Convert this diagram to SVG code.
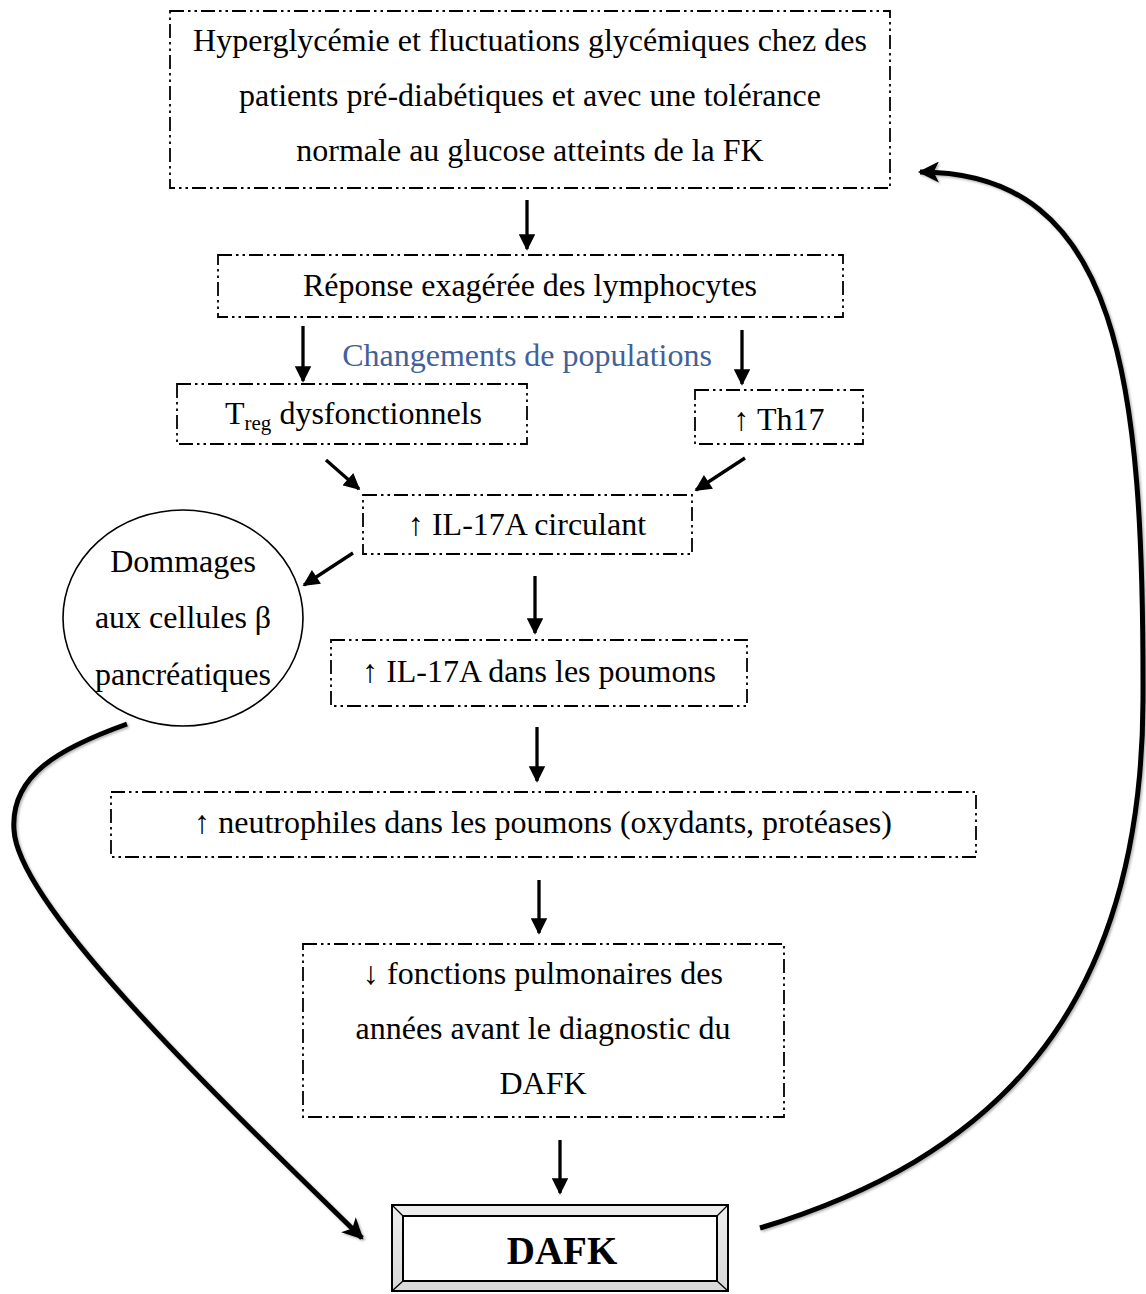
<svg xmlns="http://www.w3.org/2000/svg" width="1146" height="1294" viewBox="0 0 1146 1294">
<style>
.box{fill:none;stroke:#000;stroke-width:1.8;stroke-dasharray:14 4 2.5 4 2.5 4}
.t{font-family:"Liberation Serif","Times New Roman",serif;font-size:32px;fill:#000;text-anchor:middle}
.arr{stroke:#000;stroke-width:3.3;fill:none;marker-end:url(#ah)}
.curve{stroke:#000;stroke-width:5;fill:none;filter:url(#sh)}
</style>
<defs>
<marker id="ah" viewBox="0 0 10 10" refX="9" refY="5" markerWidth="5.2" markerHeight="5" orient="auto" markerUnits="strokeWidth">
<path d="M0,0 L10,5 L0,10 z" fill="#000"/>
</marker>
<marker id="ah2" viewBox="0 0 10 10" refX="9" refY="5" markerWidth="5" markerHeight="4.2" orient="auto" markerUnits="strokeWidth">
<path d="M0,0 L10,5 L0,10 L2.5,5 z" fill="#000"/>
</marker>
<filter id="sh" x="-10%" y="-10%" width="120%" height="120%">
<feDropShadow dx="1.5" dy="1.5" stdDeviation="1.2" flood-color="#000" flood-opacity="0.3"/>
</filter>
<linearGradient id="bev" x1="0" y1="0" x2="0" y2="1">
<stop offset="0" stop-color="#eeeeee"/>
<stop offset="1" stop-color="#d8d8d8"/>
</linearGradient>
</defs>
<rect width="1146" height="1294" fill="#fff"/>

<g id="connectors">
<line class="arr" x1="527" y1="200" x2="527" y2="249"/>
<line class="arr" x1="303" y1="326" x2="303" y2="381"/>
<line class="arr" x1="742" y1="330" x2="742" y2="384"/>
<line class="arr" x1="326" y1="460" x2="359" y2="489"/>
<line class="arr" x1="745" y1="458" x2="696" y2="490"/>
<line class="arr" x1="353" y1="553" x2="304" y2="585"/>
<line class="arr" x1="535" y1="576" x2="535" y2="633"/>
<line class="arr" x1="537" y1="727" x2="537" y2="781"/>
<line class="arr" x1="539" y1="880" x2="539" y2="933"/>
<line class="arr" x1="560" y1="1140" x2="560" y2="1193"/>
<path class="curve" marker-end="url(#ah2)" d="M127,724 C60,748 10,775 14,830 C18,905 210,1090 362,1238"/>
<path class="curve" marker-end="url(#ah2)" d="M760,1228 C985,1160 1142,1020 1143,700 C1144,380 1120,172 920,172"/>
</g>

<g id="n1">
<rect class="box" x="170" y="11" width="720" height="177"/>
<text class="t" x="530" y="51">Hyperglycémie et fluctuations glycémiques chez des</text>
<text class="t" x="530" y="106">patients pré-diabétiques et avec une tolérance</text>
<text class="t" x="530" y="161">normale au glucose atteints de la FK</text>
</g>

<g id="n2">
<rect class="box" x="218" y="255" width="625" height="62"/>
<text class="t" x="530" y="296">Réponse exagérée des lymphocytes</text>
</g>

<g id="lbl">
<text class="t" x="527" y="366" style="fill:#41619b">Changements de populations</text>
</g>

<g id="n3">
<rect class="box" x="177" y="384" width="350" height="60"/>
<text class="t" x="225" y="424" style="text-anchor:start">T<tspan font-size="21" dy="6">reg</tspan><tspan dy="-6"> dysfonctionnels</tspan></text>
</g>

<g id="n4">
<rect class="box" x="695" y="390" width="168" height="54"/>
<text class="t" x="779" y="430">↑ Th17</text>
</g>

<g id="n5">
<rect class="box" x="363" y="495" width="329" height="59"/>
<text class="t" x="527" y="535">↑ IL-17A circulant</text>
</g>

<g id="n6">
<ellipse cx="183" cy="618" rx="120" ry="108" fill="#fff" stroke="#000" stroke-width="1.6"/>
<text class="t" x="183" y="572">Dommages</text>
<text class="t" x="183" y="628">aux cellules β</text>
<text class="t" x="183" y="685">pancréatiques</text>
</g>

<g id="n7">
<rect class="box" x="331" y="640" width="416" height="66"/>
<text class="t" x="539" y="682">↑ IL-17A dans les poumons</text>
</g>

<g id="n8">
<rect class="box" x="111" y="792" width="865" height="65"/>
<text class="t" x="543" y="833">↑ neutrophiles dans les poumons (oxydants, protéases)</text>
</g>

<g id="n9">
<rect class="box" x="303" y="944" width="481" height="173"/>
<text class="t" x="543" y="984">↓ fonctions pulmonaires des</text>
<text class="t" x="543" y="1039">années avant le diagnostic du</text>
<text class="t" x="543" y="1094">DAFK</text>
</g>

<g id="n10">
<rect x="392" y="1205" width="336" height="86" fill="url(#bev)" stroke="#000" stroke-width="2"/>
<rect x="403" y="1216" width="314" height="65" fill="#fff" stroke="#000" stroke-width="2"/>
<line x1="392" y1="1205" x2="403" y2="1216" stroke="#000" stroke-width="1.3"/>
<line x1="728" y1="1205" x2="717" y2="1216" stroke="#000" stroke-width="1.3"/>
<line x1="392" y1="1291" x2="403" y2="1281" stroke="#000" stroke-width="1.3"/>
<line x1="728" y1="1291" x2="717" y2="1281" stroke="#000" stroke-width="1.3"/>
<text class="t" x="562" y="1264" style="font-size:39px;font-weight:bold">DAFK</text>
</g>
</svg>
